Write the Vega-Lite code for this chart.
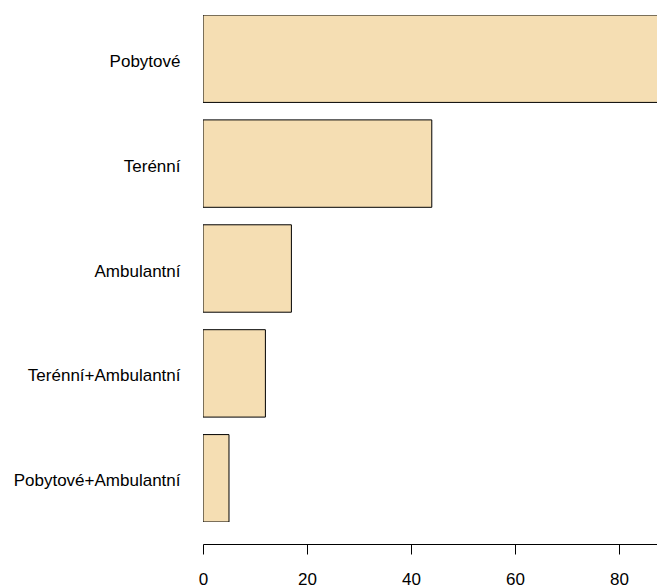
{
  "$schema": "https://vega.github.io/schema/vega-lite/v6.json",
  "autosize": {"type": "none"},
  "padding": {"left": 203, "top": 15, "right": 0, "bottom": 66},
  "width": 454,
  "height": 507,
  "background": "white",
  "config": {
    "view": {"stroke": null},
    "font": "Liberation Sans",
    "axis": {"grid": false, "labelColor": "black", "labelFontSize": 17, "labelFont": "Liberation Sans"}
  },
  "data": {
    "values": [
      {"typ": "Pobytové", "pocet": 88},
      {"typ": "Terénní", "pocet": 44},
      {"typ": "Ambulantní", "pocet": 17},
      {"typ": "Terénní+Ambulantní", "pocet": 12},
      {"typ": "Pobytové+Ambulantní", "pocet": 5}
    ]
  },
  "mark": {"type": "bar", "fill": "#F5DEB3", "stroke": "black", "strokeWidth": 1, "clip": true},
  "encoding": {
    "y": {
      "field": "typ",
      "type": "nominal",
      "sort": null,
      "scale": {"paddingInner": 0.1667, "paddingOuter": 0},
      "axis": {"title": null, "ticks": false, "domain": false, "labelPadding": 23, "labelOffset": 3}
    },
    "x": {
      "field": "pocet",
      "type": "quantitative",
      "scale": {"domain": [0, 87.31], "nice": false, "zero": true},
      "axis": {
        "title": null,
        "values": [0, 20, 40, 60, 80],
        "offset": 22,
        "tickSize": 10,
        "tickColor": "black",
        "domainColor": "black",
        "labelPadding": 17,
        "labelFlush": false
      }
    }
  }
}
